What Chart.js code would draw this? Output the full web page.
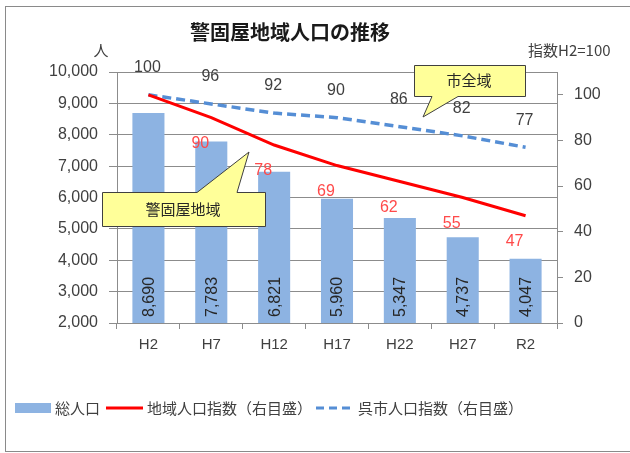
<!DOCTYPE html>
<html>
<head>
<meta charset="utf-8">
<script src="https://cdn.jsdelivr.net/npm/chart.js@4"></script>
<style>
  body { margin: 0; background: #fff; }
  canvas { display: block; }
</style>
</head>
<body>
<canvas id="myChart" width="630" height="453"></canvas>
<script>
// Data
const categories = ['H2', 'H7', 'H12', 'H17', 'H22', 'H27', 'R2'];
const totalPop = [8690, 7783, 6821, 5960, 5347, 4737, 4047];   // 総人口 (left axis)
const areaIndex = [100, 90, 78, 69, 62, 55, 47];               // 地域人口指数 (right axis)
const cityIndex = [100, 96, 92, 90, 86, 82, 77];               // 呉市人口指数 (right axis)
const leftTicks = [2000, 10000, 1000];  // min, max, step
const rightTicks = [0, 100, 20];

const FONT = "'Liberation Sans', 'Noto Sans CJK JP', sans-serif";
const JP = "'Noto Sans CJK JP', sans-serif";
const TXT = '#404040';

function fmt(n) { return n.toLocaleString('en-US'); }

// Draw the frame, titles, data labels, callouts and legend
const extras = {
  id: 'extras',
  beforeDraw(chart) {
    const ctx = chart.ctx;
    ctx.save();
    ctx.fillStyle = '#fff';
    ctx.fillRect(0, 0, chart.width, chart.height);
    ctx.strokeStyle = '#8a8a8a';
    ctx.lineWidth = 1;
    ctx.strokeRect(5.5, 6.5, 640, 445);
    ctx.restore();
  },
  afterDraw(chart) {
    const ctx = chart.ctx;
    const area = chart.chartArea;
    ctx.save();

    // title and axis captions
    ctx.fillStyle = '#1a1a1a';
    ctx.font = 'bold 20px ' + JP;
    ctx.textAlign = 'center';
    ctx.textBaseline = 'middle';
    ctx.fillText('警固屋地域人口の推移', 290, 32);
    ctx.font = '15px ' + JP;
    ctx.fillStyle = TXT;
    ctx.fillText('人', 101, 50);
    ctx.textAlign = 'left';
    ctx.fillText('指数H2=100', 528, 50);

    // bar labels (rotated, at bar bottom)
    const barMeta = chart.getDatasetMeta(0);
    ctx.font = '16px ' + FONT;
    ctx.fillStyle = '#262626';
    barMeta.data.forEach((bar, i) => {
      ctx.save();
      ctx.translate(bar.x, area.bottom - 6);
      ctx.rotate(-Math.PI / 2);
      ctx.textAlign = 'left';
      ctx.textBaseline = 'middle';
      ctx.fillText(fmt(totalPop[i]), 0, 1);
      ctx.restore();
    });

    // red line labels (below-left)
    const redMeta = chart.getDatasetMeta(1);
    ctx.font = '16px ' + FONT;
    ctx.fillStyle = '#ff4a4a';
    ctx.textAlign = 'center';
    ctx.textBaseline = 'middle';
    redMeta.data.forEach((p, i) => {
      if (i === 0) return;
      ctx.fillText(String(areaIndex[i]), p.x - 11, p.y + 26);
    });

    // blue line labels (above)
    const blueMeta = chart.getDatasetMeta(2);
    ctx.fillStyle = TXT;
    blueMeta.data.forEach((p, i) => {
      ctx.fillText(String(cityIndex[i]), p.x - 1, p.y - 27);
    });

    // callouts
    function callout(points, text, tx, ty) {
      ctx.beginPath();
      ctx.moveTo(points[0][0], points[0][1]);
      for (let k = 1; k < points.length; k++) ctx.lineTo(points[k][0], points[k][1]);
      ctx.closePath();
      ctx.fillStyle = '#ffff99';
      ctx.fill();
      ctx.strokeStyle = '#404040';
      ctx.lineWidth = 1;
      ctx.stroke();
      ctx.fillStyle = '#262626';
      ctx.font = '15px ' + JP;
      ctx.textAlign = 'center';
      ctx.textBaseline = 'middle';
      ctx.fillText(text, tx, ty);
    }
    callout([[414.5, 65.5], [525.5, 65.5], [525.5, 96.5], [458, 96.5], [423, 117], [432, 96.5], [414.5, 96.5]],
      '市全域', 469, 80);
    callout([[102.5, 192.5], [197, 192.5], [249, 152], [237, 192.5], [265.5, 192.5], [265.5, 226.5], [102.5, 226.5]],
      '警固屋地域', 183, 209);

    // legend
    const ly = 408;
    ctx.font = '15px ' + JP;
    ctx.textAlign = 'left';
    ctx.textBaseline = 'middle';
    ctx.fillStyle = '#8db3e2';
    ctx.fillRect(15, ly - 5, 36, 10);
    ctx.fillStyle = TXT;
    ctx.fillText('総人口', 55, ly);
    ctx.strokeStyle = '#ff0000';
    ctx.lineWidth = 3;
    ctx.beginPath(); ctx.moveTo(106, ly); ctx.lineTo(143, ly); ctx.stroke();
    ctx.fillText('地域人口指数（右目盛）', 147, ly);
    ctx.strokeStyle = '#558ed5';
    ctx.setLineDash([8, 5]);
    ctx.beginPath(); ctx.moveTo(316, ly); ctx.lineTo(351, ly); ctx.stroke();
    ctx.setLineDash([]);
    ctx.fillText('呉市人口指数（右目盛）', 358, ly);

    ctx.restore();
  }
};

const data = {
  labels: categories,
  datasets: [
    {
      type: 'bar',
      label: '総人口',
      data: totalPop,
      yAxisID: 'y',
      backgroundColor: '#8db3e2',
      categoryPercentage: 1,
      barPercentage: 0.51,
      order: 3
    },
    {
      type: 'line',
      label: '地域人口指数（右目盛）',
      data: areaIndex,
      yAxisID: 'y1',
      borderColor: '#ff0000',
      borderWidth: 3,
      pointRadius: 0,
      tension: 0,
      order: 1
    },
    {
      type: 'line',
      label: '呉市人口指数（右目盛）',
      data: cityIndex,
      yAxisID: 'y1',
      borderColor: '#558ed5',
      borderWidth: 3.5,
      borderDash: [9, 5],
      pointRadius: 0,
      tension: 0,
      order: 2
    }
  ]
};

const config = {
  type: 'bar',
  data: data,
  plugins: [extras],
  options: {
    responsive: false,
    animation: false,
    layout: { padding: { left: 0, right: 0, top: 72, bottom: 100 } },
    plugins: {
      legend: { display: false },
      title: { display: false },
      tooltip: { enabled: false }
    },
    scales: {
      x: {
        offset: true,
        grid: { offset: true, drawOnChartArea: false, tickLength: 6, color: '#8c8c8c' },
        border: { display: true, color: '#8c8c8c' },
        ticks: { font: { family: FONT, size: 15 }, color: TXT, padding: 7, maxRotation: 0 },
        afterFit(scale) { scale.height = 30; }
      },
      y: {
        position: 'left',
        min: leftTicks[0],
        max: leftTicks[1],
        ticks: {
          stepSize: leftTicks[2],
          font: { family: FONT, size: 16 },
          color: TXT,
          padding: 11,
          callback: v => fmt(v)
        },
        grid: { color: '#8c8c8c', tickLength: 8 },
        border: { display: true, color: '#8c8c8c' },
        afterFit(scale) { scale.width = 117; }
      },
      y1: {
        position: 'right',
        min: rightTicks[0],
        max: 110,
        ticks: {
          stepSize: rightTicks[2],
          font: { family: FONT, size: 16 },
          color: TXT,
          padding: 11
        },
        afterBuildTicks(scale) {
          scale.ticks = scale.ticks.filter(t => t.value <= rightTicks[1]);
        },
        grid: { drawOnChartArea: false, tickLength: 6, color: '#8c8c8c' },
        border: { display: true, color: '#8c8c8c' },
        afterFit(scale) { scale.width = 73; }
      }
    }
  }
};

var myChart = new Chart(document.getElementById('myChart'), config);
</script>
</body>
</html>
